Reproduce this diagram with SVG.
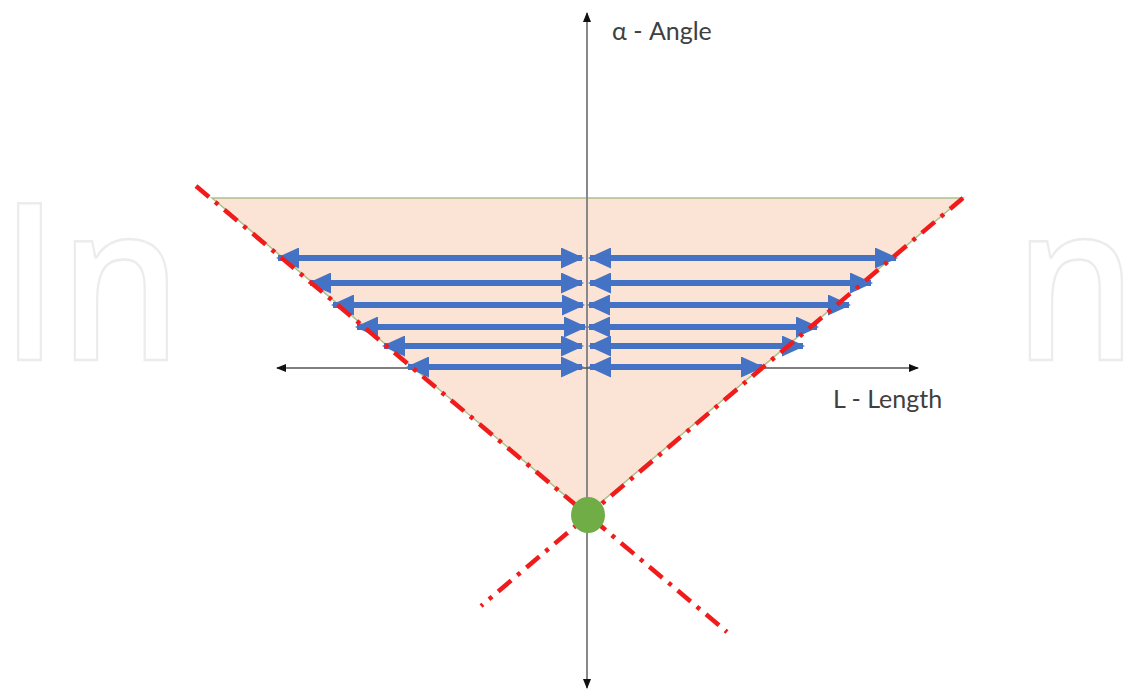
<svg xmlns="http://www.w3.org/2000/svg" width="1143" height="694" viewBox="0 0 1143 694">
<style>
.wm{font-family:"Open Sans",sans-serif;font-size:220px;font-weight:600;fill:none;stroke:#ececec;stroke-width:2.5}
.lbl{font-family:Lato,"Open Sans",sans-serif;font-size:25px;fill:#404040}
.red{stroke:#f01c1c;stroke-width:4.5;stroke-dasharray:17 8 4 8;fill:none}
.blue{stroke:#4472c4;stroke-width:6;fill:none;marker-start:url(#bh);marker-end:url(#bh)}
</style>
<defs>
<marker id="bh" viewBox="0 0 23 21" refX="21" refY="10.5" markerWidth="23" markerHeight="21" markerUnits="userSpaceOnUse" orient="auto-start-reverse">
<path d="M0,0 L23,10.5 L0,21 z" fill="#4472c4"/>
</marker>
<marker id="ah" viewBox="0 0 10 10" refX="9" refY="5" markerWidth="10" markerHeight="10" markerUnits="userSpaceOnUse" orient="auto-start-reverse">
<path d="M0,1 L10,5 L0,9 z" fill="#111"/>
</marker>
</defs>
<rect width="1143" height="694" fill="#fff"/>
<g id="watermark">
<text class="wm" transform="translate(0,360) scale(0.88,1)" x="0" y="0">In</text>
<text class="wm" transform="translate(1014,360) scale(0.88,1)" x="0" y="0">n</text>
</g>
<g id="region">
<polygon points="212,198 963,198 587,514" fill="#fbe3d5" stroke="#a9c28b" stroke-width="1.5"/>
</g>
<g id="axes">
<line x1="587" y1="688" x2="587" y2="13" stroke="#888" stroke-width="2" marker-end="url(#ah)" marker-start="url(#ah)"/>
<line x1="277" y1="368" x2="918" y2="368" stroke="#555" stroke-width="1.5" marker-end="url(#ah)" marker-start="url(#ah)"/>
</g>
<g id="connectors">
<line class="blue" x1="278" y1="258" x2="582" y2="258"/>
<line class="blue" x1="590" y1="258" x2="896" y2="258"/>
<line class="blue" x1="310" y1="283" x2="582" y2="283"/>
<line class="blue" x1="590" y1="283" x2="871" y2="283"/>
<line class="blue" x1="333" y1="305" x2="583" y2="305"/>
<line class="blue" x1="589" y1="305" x2="849" y2="305"/>
<line class="blue" x1="357" y1="327" x2="585" y2="327"/>
<line class="blue" x1="589" y1="327" x2="817" y2="327"/>
<line class="blue" x1="384" y1="346" x2="582" y2="346"/>
<line class="blue" x1="590" y1="346" x2="803" y2="346"/>
<line class="blue" x1="408" y1="367" x2="582" y2="367"/>
<line class="blue" x1="590" y1="367" x2="762" y2="367"/>
</g>
<g id="bounds">
<line class="red" x1="196" y1="186" x2="727" y2="632"/>
<line class="red" x1="963" y1="198" x2="481" y2="606"/>
</g>
<g id="origin">
<ellipse cx="588" cy="515" rx="17" ry="18" fill="#70ad47"/>
</g>
<g id="labels">
<text class="lbl" x="612" y="40">α - Angle</text>
<text class="lbl" x="833" y="408">L - Length</text>
</g>
</svg>
